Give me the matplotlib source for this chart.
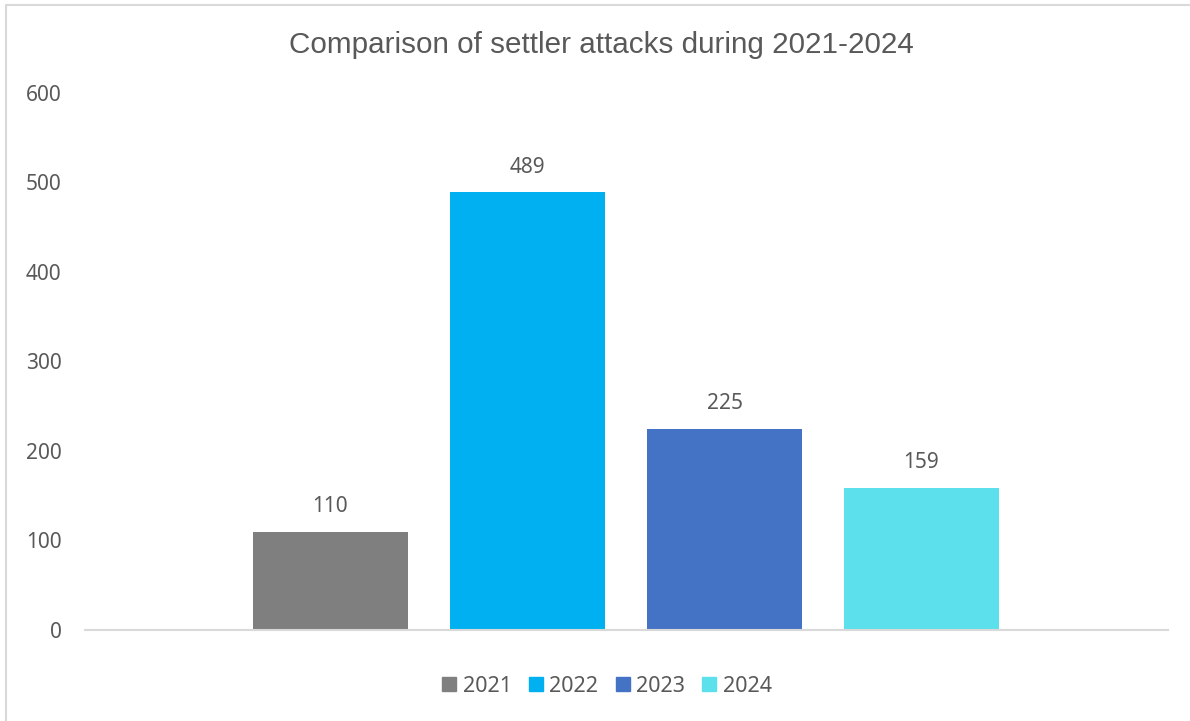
import matplotlib.pyplot as plt
from matplotlib.patches import Rectangle, Patch

years = ['2021', '2022', '2023', '2024']
attacks = [110, 489, 225, 159]
colors = ['#7F7F7F', '#00B0F0', '#4472C4', '#5BE0EC']
yticks = [0, 100, 200, 300, 400, 500, 600]

plt.rcParams['font.family'] = ['Noto Sans', 'DejaVu Sans']
txt = '#595959'

fig = plt.figure(figsize=(11.9, 7.21), dpi=100)
ax = fig.add_axes([85 / 1190, 1 - 630 / 721, (1168 - 85) / 1190, (630 - 93) / 721])

# chart border
fig.patches.append(Rectangle((6 / 1190, -0.01), 1.0, 1 - 5 / 721 + 0.01,
                             transform=fig.transFigure, fill=False,
                             edgecolor='#D9D9D9', linewidth=1.5))

xs = range(len(years))
bars = ax.bar(xs, attacks, width=0.787, color=colors)
for x, v in zip(xs, attacks):
    ax.annotate(str(v), (x, v), xytext=(0, 18), textcoords='offset points',
                ha='center', va='center', fontsize=15, color=txt)

ax.set_xlim(-1.246, 4.251)
ax.set_ylim(0, 600)
ax.set_yticks(yticks)
ax.set_xticks([])
ax.tick_params(axis='y', length=0, pad=17, labelsize=15, labelcolor=txt)
for s in ['top', 'right', 'left']:
    ax.spines[s].set_visible(False)
ax.spines['bottom'].set_color('#D9D9D9')
ax.spines['bottom'].set_linewidth(1.5)

fig.text(0.5 + 6 / 1190, 1 - 45 / 721, 'Comparison of settler attacks during 2021-2024',
         ha='center', va='center', fontsize=21.3, color=txt,
         family=['Liberation Sans', 'DejaVu Sans'])

handles = [Patch(color=c, label=y) for c, y in zip(colors, years)]
fig.legend(handles=handles, loc='center',
           bbox_to_anchor=(0.5 + 12 / 1190, 1 - 686 / 721),
           ncol=4, frameon=False, fontsize=15.5, labelcolor=txt,
           handlelength=0.65, handleheight=0.65, handletextpad=0.3,
           columnspacing=0.8)

fig.savefig('out.png', dpi=100)
